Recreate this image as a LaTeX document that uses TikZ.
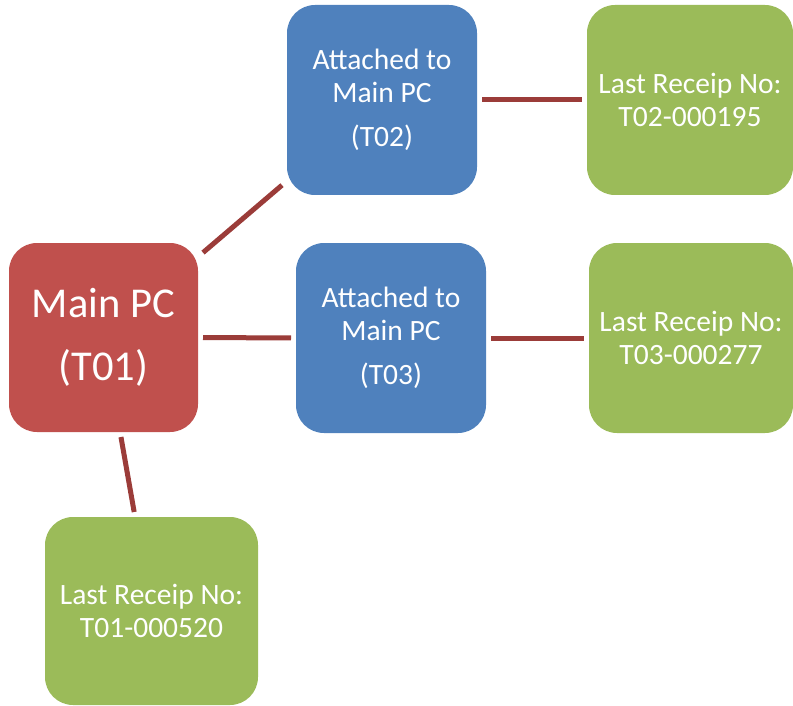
\documentclass[tikz,border=0pt]{standalone}
\usepackage{fontspec}
\setmainfont{Carlito}
\definecolor{pcred}{HTML}{C0504D}
\definecolor{pcblue}{HTML}{4F81BD}
\definecolor{pcgreen}{HTML}{9BBB59}
\definecolor{linkred}{RGB}{155,60,57}
\tikzset{
  box/.style={rounded corners=28pt, inner sep=0pt, outer sep=5pt, text=white, align=center,
    font=\fontsize{29.5}{33}\selectfont},
  mainbox/.style={box, fill=pcred, minimum width=189pt, minimum height=189pt,
    font=\fontsize{42.5}{63}\selectfont},
  termbox/.style={box, fill=pcblue, minimum width=190pt, minimum height=190pt},
  receipt/.style={box, fill=pcgreen, minimum height=190pt},
  link/.style={draw=linkred, line width=5pt}
}
\begin{document}
\begin{tikzpicture}[x=1pt, y=-1pt] % boxes at pixel positions
\useasboundingbox (0,0) rectangle (793,706);

\node[mainbox] (main) at (103.5,337.5) {Main PC\\(T01)};
\node[termbox] (t02) at (382,100) {Attached to\\Main PC\\[11pt](T02)};
\node[termbox] (t03) at (391,338) {Attached to\\Main PC\\[11pt](T03)};
\node[receipt, minimum width=206pt] (r02) at (690,100) {Last Receip No:\\T02-000195};
\node[receipt, minimum width=204pt] (r03) at (691,338) {Last Receip No:\\T03-000277};
\node[receipt, minimum width=213pt, minimum height=188pt] (r01) at (151.5,611) {Last Receip No:\\T01-000520};

\foreach \a/\b in {main/t02, main/t03, t02/r02, t03/r03, main/r01}
{
    \draw[link] (\a) -- (\b);
}
\end{tikzpicture}
\end{document}
